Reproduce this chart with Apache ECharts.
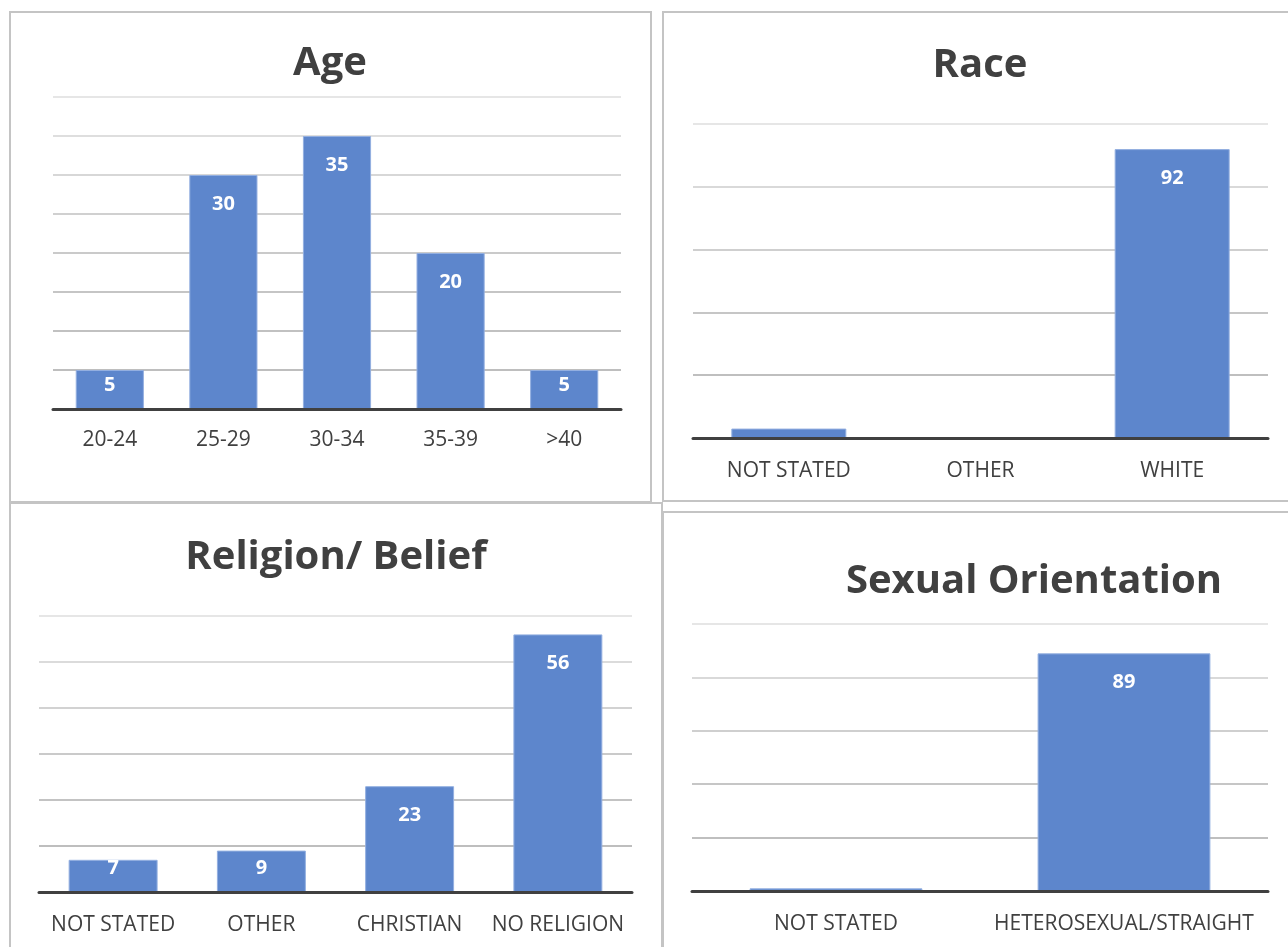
<!DOCTYPE html>
<html>
<head>
<meta charset="utf-8">
<title>Demographics</title>
<script src="https://cdn.jsdelivr.net/npm/echarts@6/dist/echarts.min.js"></script>
<style>
  html, body { margin: 0; padding: 0; background: #ffffff; }
  #chart { width: 1288px; height: 947px; }
</style>
</head>
<body>
<div id="chart"></div>
<script>
// ---- data ----
const ageCategories = ['20-24', '25-29', '30-34', '35-39', '>40'];
const ageValues = [5, 30, 35, 20, 5];

const raceCategories = ['NOT STATED', 'OTHER', 'WHITE'];
const raceValues = [3, 0, 92];

const religionCategories = ['NOT STATED', 'OTHER', 'CHRISTIAN', 'NO RELIGION'];
const religionValues = [7, 9, 23, 56];

const orientationCategories = ['NOT STATED', 'HETEROSEXUAL/STRAIGHT'];
const orientationValues = [1, 89];

// value axis ranges per panel
const ageAxis = { max: 40, interval: 5 };
const raceAxis = { max: 100, interval: 20 };
const religionAxis = { max: 60, interval: 10 };
const orientationAxis = { max: 100, interval: 20 };

// ---- styling ----
const FONT = '"Open Sans", "Noto Sans", sans-serif';
const BAR = '#5d86cc';
const BAR_EDGE = '#93afe0';
const TEXT = '#404040';
const AXIS = '#404040';

// panel layouts: grid rectangles and title anchors
const panels = [
  { title: 'Age', cx: 330, ty: 44, grid: { left: 53, top: 97, width: 568, height: 312 },
    cats: ageCategories, vals: ageValues, axis: ageAxis, labelMin: 0 },
  { title: 'Race', cx: 980, ty: 46, grid: { left: 693, top: 124, width: 575, height: 314 },
    cats: raceCategories, vals: raceValues, axis: raceAxis, labelMin: 10 },
  { title: 'Religion/ Belief', cx: 336, ty: 538, grid: { left: 39, top: 616, width: 593, height: 276 },
    cats: religionCategories, vals: religionValues, axis: religionAxis, labelMin: 0 },
  { title: 'Sexual Orientation', cx: 1034, ty: 562, grid: { left: 692, top: 624, width: 576, height: 267 },
    cats: orientationCategories, vals: orientationValues, axis: orientationAxis, labelMin: 10 }
];

// gridlines fade slightly toward the top of each plot
function gridShades(count) {
  const dark = 188, light = 230;
  const out = [];
  for (let i = 0; i <= count; i++) {
    const c = Math.round(dark + (light - dark) * Math.pow(i / count, 1.6));
    out.push('rgb(' + c + ',' + c + ',' + c + ')');
  }
  return out;
}

// value labels sit inside the bar end; on short bars they rest near the base
function barData(p) {
  return p.vals.map(function (v) {
    const px = v / p.axis.max * p.grid.height;
    const show = v >= p.labelMin;
    return {
      value: v,
      label: px >= 51
        ? { show: show, position: 'insideTop', distance: 19 }
        : { show: show, position: 'insideBottom', distance: 14 }
    };
  });
}

const option = {
  backgroundColor: '#ffffff',
  animation: false,
  title: panels.map(function (p) {
    return {
      text: p.title,
      left: p.cx,
      top: p.ty,
      padding: 0,
      textAlign: 'center',
      textStyle: { fontFamily: FONT, fontWeight: 'bold', fontSize: 40, color: TEXT }
    };
  }),
  grid: panels.map(function (p) { return Object.assign({ containLabel: false }, p.grid); }),
  xAxis: panels.map(function (p, i) {
    return {
      type: 'category',
      gridIndex: i,
      data: p.cats,
      z: 5,
      axisLine: { show: true, lineStyle: { color: AXIS, width: 3 } },
      axisTick: { show: false },
      axisLabel: { margin: i === 0 ? 21 : 23, color: TEXT, fontFamily: FONT, fontSize: 21, interval: 0 },
      splitLine: { show: false }
    };
  }),
  yAxis: panels.map(function (p, i) {
    const n = p.axis.max / p.axis.interval;
    return {
      type: 'value',
      gridIndex: i,
      min: 0,
      max: p.axis.max,
      interval: p.axis.interval,
      axisLine: { show: false },
      axisTick: { show: false },
      axisLabel: { show: false },
      splitLine: { show: true, lineStyle: { color: gridShades(n), width: 2 } }
    };
  }),
  series: panels.map(function (p, i) {
    return {
      type: 'bar',
      xAxisIndex: i,
      yAxisIndex: i,
      data: barData(p),
      barCategoryGap: '40%',
      itemStyle: { color: BAR, borderColor: BAR_EDGE, borderWidth: 1 },
      label: { color: '#ffffff', fontFamily: FONT, fontWeight: 'bold', fontSize: 20 }
    };
  }),
  // panel frames
  graphic: [
    { type: 'rect', shape: { x: 10, y: 12, width: 641, height: 490 },
      style: { fill: null, stroke: '#c4c4c4', lineWidth: 2 }, z: 100 },
    { type: 'rect', shape: { x: 663, y: 12, width: 700, height: 489 },
      style: { fill: null, stroke: '#c4c4c4', lineWidth: 2 }, z: 100 },
    { type: 'rect', shape: { x: 10, y: 503, width: 652, height: 500 },
      style: { fill: null, stroke: '#c4c4c4', lineWidth: 2 }, z: 100 },
    { type: 'rect', shape: { x: 663, y: 512, width: 700, height: 500 },
      style: { fill: null, stroke: '#c4c4c4', lineWidth: 2 }, z: 100 }
  ]
};

const chart = echarts.init(document.getElementById('chart'), null, { renderer: 'canvas' });
chart.setOption(option);
</script>
</body>
</html>
